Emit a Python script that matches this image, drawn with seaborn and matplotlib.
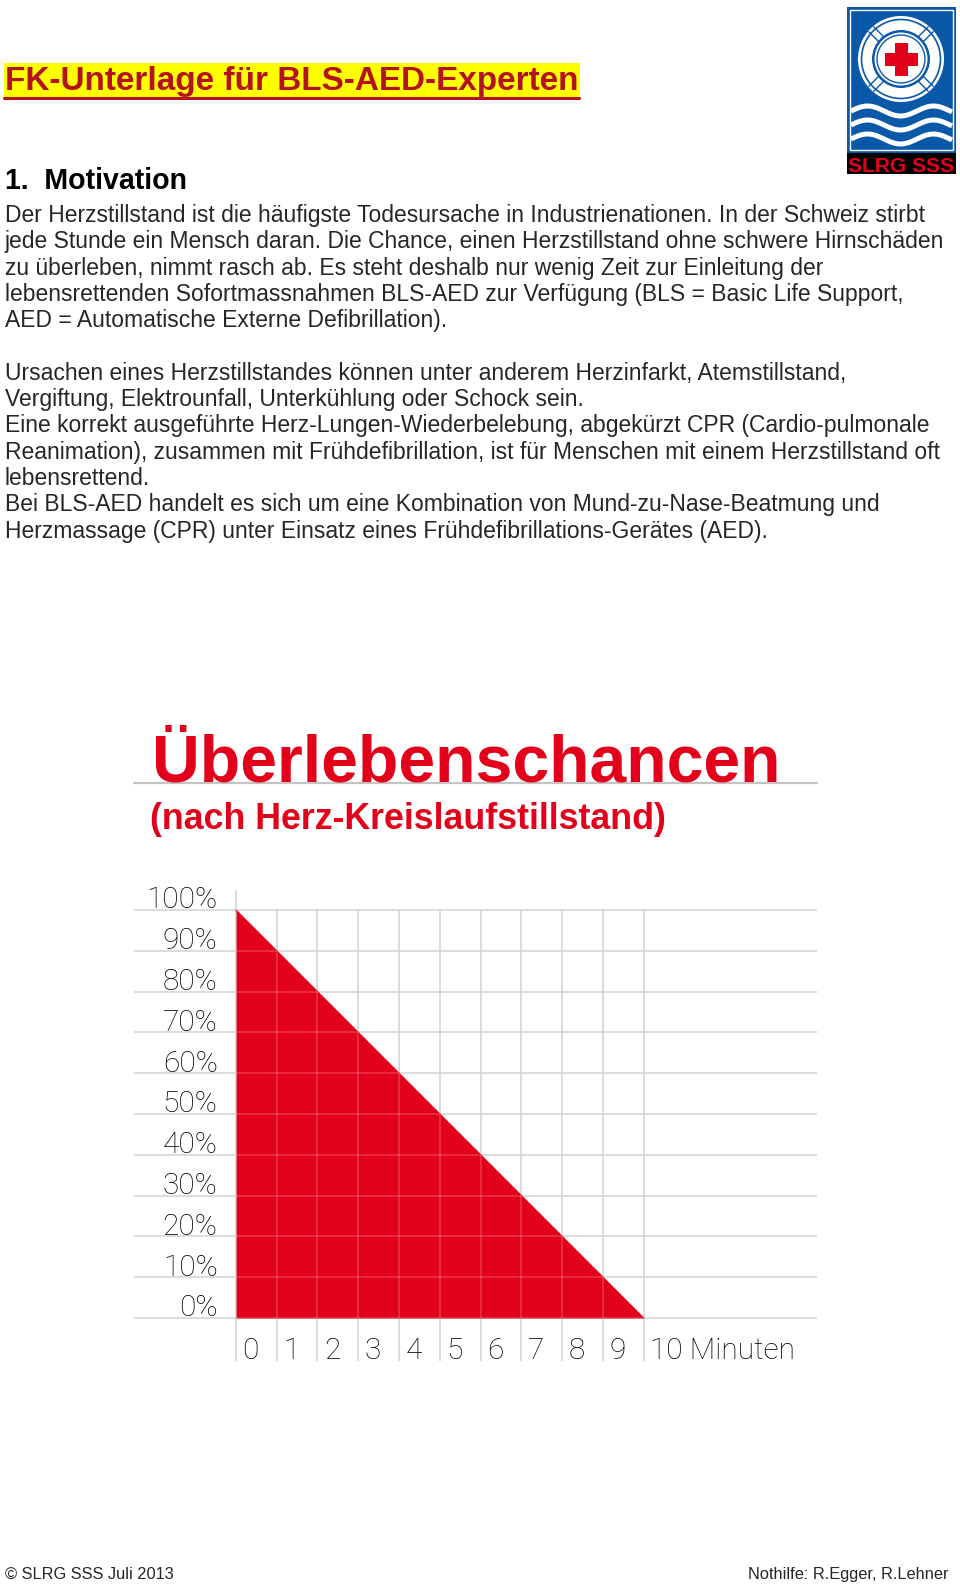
import numpy as np
import pandas as pd
import seaborn as sns
import matplotlib.pyplot as plt
from matplotlib.patches import Rectangle, Circle
from matplotlib.lines import Line2D

# chart data
minutes = [0, 1, 2, 3, 4, 5, 6, 7, 8, 9, 10]
survival = [100, 90, 80, 70, 60, 50, 40, 30, 20, 10, 0]
y_ticks = [0, 10, 20, 30, 40, 50, 60, 70, 80, 90, 100]
y_labels = ["0%", "10%", "20%", "30%", "40%", "50%", "60%", "70%", "80%", "90%", "100%"]
x_labels = ["0", "1", "2", "3", "4", "5", "6", "7", "8", "9", "10 Minuten"]

header = "FK-Unterlage für BLS-AED-Experten"
section = "1.  Motivation"
body = [
    "Der Herzstillstand ist die häufigste Todesursache in Industrienationen. In der Schweiz stirbt",
    "jede Stunde ein Mensch daran. Die Chance, einen Herzstillstand ohne schwere Hirnschäden",
    "zu überleben, nimmt rasch ab. Es steht deshalb nur wenig Zeit zur Einleitung der",
    "lebensrettenden Sofortmassnahmen BLS-AED zur Verfügung (BLS = Basic Life Support,",
    "AED = Automatische Externe Defibrillation).",
    "",
    "Ursachen eines Herzstillstandes können unter anderem Herzinfarkt, Atemstillstand,",
    "Vergiftung, Elektrounfall, Unterkühlung oder Schock sein.",
    "Eine korrekt ausgeführte Herz-Lungen-Wiederbelebung, abgekürzt CPR (Cardio-pulmonale",
    "Reanimation), zusammen mit Frühdefibrillation, ist für Menschen mit einem Herzstillstand oft",
    "lebensrettend.",
    "Bei BLS-AED handelt es sich um eine Kombination von Mund-zu-Nase-Beatmung und",
    "Herzmassage (CPR) unter Einsatz eines Frühdefibrillations-Gerätes (AED).",
]
chart_title = "Überlebenschancen"
chart_subtitle = "(nach Herz-Kreislaufstillstand)"
footer_left = "© SLRG SSS Juli 2013"
footer_right = "Nothilfe: R.Egger, R.Lehner"

RED = "#e2001a"
DARKRED = "#b3121e"
GRID = "#d2d2d2"
LABEL = "#000000"

sns.set_style("white")
plt.rcParams['font.family'] = ['Liberation Sans', 'DejaVu Sans']

W, H = 960, 1587
fig = plt.figure(figsize=(W / 100, H / 100), dpi=100)
renderer = fig.canvas.get_renderer()


def px(x, y):
    return x / W, 1 - y / H


def fit_width(t, width):
    w = t.get_window_extent(renderer).width
    t.set_fontsize(t.get_fontsize() * width / w)
    return t.get_fontsize()


# header with yellow highlight and underline
fig.add_artist(Rectangle(px(4, 98), 576 / W, 35 / H, transform=fig.transFigure,
                         color="#ffff00", lw=0, zorder=0))
t = fig.text(*px(5, 90), header, color=DARKRED, fontweight='bold', va='baseline', fontsize=20)
fit_width(t, 572)
fig.add_artist(Line2D([4 / W, 579 / W], [1 - 97.5 / H] * 2, color=DARKRED, lw=2.2))

t = fig.text(*px(5, 189), section, color='black', fontweight='bold', va='baseline', fontsize=20)
fit_width(t, 182)

# body text
t0 = fig.text(*px(5, 222), body[0], va='baseline', fontsize=15)
fs = fit_width(t0, 922)
for i, line in enumerate(body[1:], start=1):
    if line:
        fig.text(*px(5, 222 + 26.3 * i), line, va='baseline', fontsize=fs)

# footer
t = fig.text(*px(5, 1579), footer_left, va='baseline', fontsize=12)
ffs = fit_width(t, 168)
t = fig.text(*px(948, 1579), footer_right, va='baseline', ha='right', fontsize=ffs)

# chart titles
cond = ['Liberation Sans', 'DejaVu Sans']
t = fig.text(*px(152, 781), chart_title, color=RED, fontweight='bold', va='baseline',
             fontsize=40, family=cond)
fit_width(t, 627)
t = fig.text(*px(150, 829), chart_subtitle, color=RED, fontweight='bold', va='baseline',
             fontsize=20, family=cond)
fit_width(t, 515)
fig.add_artist(Line2D([134 / W, 817 / W], [1 - 783 / H] * 2, color="#c4c4c4", lw=1.6))

# chart
x0, x1, y0, y1 = -2.5, 14.25, -12, 106
left, right = 134, 817
top = 910 - 6 * 4.08
bottom = 1318 + 12 * 4.08
ax = fig.add_axes([left / W, 1 - bottom / H, (right - left) / W, (bottom - top) / H])
df = pd.DataFrame({'Minuten': minutes, 'Chance': survival})

ax.hlines(y_ticks, x0, x1, colors=GRID, lw=1.1, zorder=1)
ax.vlines(df.Minuten, -10.5, 100, colors=GRID, lw=1.1, zorder=1)
ax.vlines(0, 100, 105, colors=GRID, lw=1.1, zorder=1)
poly = ax.fill_between(df.Minuten, df.Chance, 0, color=RED, lw=0, zorder=2)
sns.lineplot(data=df, x='Minuten', y='Chance', color=RED, lw=0.8, ax=ax, zorder=3)
clip = poly.get_paths()[0]
h2 = ax.hlines(y_ticks, x0, x1, colors='white', lw=1.1, alpha=0.22, zorder=4)
v2 = ax.vlines(df.Minuten, 0, 100, colors='white', lw=1.1, alpha=0.22, zorder=4)
h2.set_clip_path(clip, ax.transData)
v2.set_clip_path(clip, ax.transData)

light = ['Roboto', 'Liberation Sans', 'DejaVu Sans']
lab = ax.text(-0.45, 100.4, y_labels[-1], ha='right', va='baseline', fontsize=20,
              family=light, fontweight='light', color=LABEL)
lfs = fit_width(lab, 71)
for yv, s in zip(y_ticks[:-1], y_labels[:-1]):
    ax.text(-0.45, yv + 0.4, s, ha='right', va='baseline', fontsize=lfs,
            family=light, fontweight='light', color=LABEL)
for xv, s in zip(minutes, x_labels):
    ax.text(xv + 0.16, -10, s, ha='left', va='baseline', fontsize=lfs,
            family=light, fontweight='light', color=LABEL)

ax.set_xlim(x0, x1)
ax.set_ylim(y0, y1)
ax.axis('off')

# logo
BLUE = "#0a58a8"
lg = fig.add_axes([847 / W, 1 - 174 / H, 109 / W, 167 / H])
lg.set_xlim(0, 109)
lg.set_ylim(167, 0)
lg.axis('off')
lg.add_patch(Rectangle((0, 0), 109, 146, color=BLUE, lw=0))
lg.add_patch(Rectangle((3, 3), 103, 140, fill=False, ec='white', lw=1.0))
lg.add_patch(Rectangle((0, 146), 109, 21, color='black', lw=0))
cx, cy = 54, 52
lg.add_patch(Circle((cx, cy), 43, color='white', lw=0))
lg.add_patch(Circle((cx, cy), 39.5, fill=False, ec=BLUE, lw=1.2))
for a in np.deg2rad([45, 135, 225, 315]):
    for off in (-3.5, 3.5):
        dx, dy = -np.sin(a) * off, np.cos(a) * off
        lg.plot([cx + 28 * np.cos(a) + dx, cx + 42 * np.cos(a) + dx],
                [cy + 28 * np.sin(a) + dy, cy + 42 * np.sin(a) + dy], color=BLUE, lw=1.0)
lg.add_patch(Circle((cx, cy), 29, color=BLUE, lw=0))
lg.add_patch(Circle((cx, cy), 26.5, color='white', lw=0))
lg.add_patch(Circle((cx, cy), 24, fill=False, ec=BLUE, lw=1.0))
lg.add_patch(Rectangle((cx - 16.5, cy - 6.5), 33, 13, color=RED, lw=0))
lg.add_patch(Rectangle((cx - 6.5, cy - 16.5), 13, 33, color=RED, lw=0))
wx = np.linspace(4, 105, 200)
for wy in (104, 118, 132):
    lg.plot(wx, wy - 5 * np.sin((wx - 4) / 66 * 2 * np.pi), color='white', lw=3.6,
            solid_capstyle='butt')
t = lg.text(54.5, 165, "SLRG SSS", color=RED, fontweight='bold', ha='center', va='baseline',
            fontsize=12, family=cond)
fit_width(t, 106)

fig.savefig("out.png", dpi=100)
